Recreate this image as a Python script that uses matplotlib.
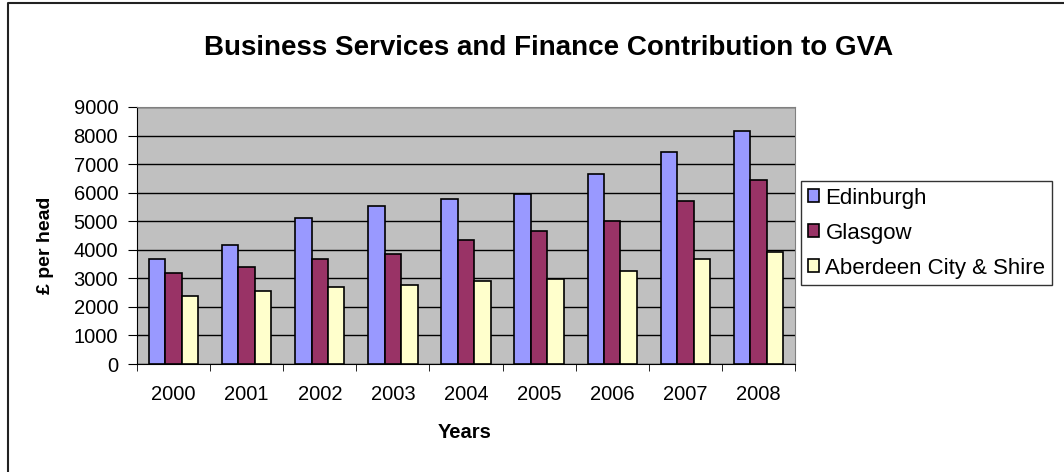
import numpy as np
import matplotlib.pyplot as plt
from matplotlib.lines import Line2D

plt.rcParams['font.family'] = ['Liberation Sans', 'DejaVu Sans']

years = ['2000', '2001', '2002', '2003', '2004', '2005', '2006', '2007', '2008']
edinburgh = [3690, 4150, 5120, 5540, 5770, 5960, 6670, 7440, 8170]
glasgow = [3190, 3380, 3690, 3860, 4340, 4650, 5010, 5720, 6430]
aberdeen = [2370, 2550, 2680, 2780, 2910, 2970, 3260, 3690, 3930]
series_names = ['Edinburgh', 'Glasgow', 'Aberdeen City & Shire']
colours = ['#9999FF', '#993366', '#FFFFCC']

W, H = 1064, 472
fig = plt.figure(figsize=(W / 100, H / 100), dpi=100)
# chart border (only left and top edges show in the crop)
fig.add_artist(Line2D([8 / W, 8 / W, 1.0], [0.0, 1 - 3 / H, 1 - 3 / H],
                      transform=fig.transFigure, color='#222222', linewidth=1.5))

ax = fig.add_axes([137 / W, 1 - 364 / H, (795 - 137) / W, (364 - 107) / H])
ax.set_facecolor('#C0C0C0')

x = np.arange(len(years))
w = 0.225
for i, (vals, col, name) in enumerate(zip([edinburgh, glasgow, aberdeen], colours, series_names)):
	ax.bar(x + (i - 1) * w, vals, w, color=col, edgecolor='black', linewidth=1.2, label=name, zorder=3)

ax.set_xlim(-0.5, len(years) - 0.5)
ax.set_ylim(0, 9000)
ax.set_yticks(np.arange(0, 9001, 1000))
ax.yaxis.grid(True, color='black', linewidth=1, zorder=0)
ax.set_axisbelow(True)

ax.set_xticks(x)
ax.set_xticklabels(years, fontsize=14.5)
ax.set_xticks(np.arange(-0.5, len(years), 1), minor=True)
ax.tick_params(axis='x', which='major', length=0, pad=15)
ax.tick_params(axis='x', which='minor', length=5, direction='out')
ax.tick_params(axis='y', labelsize=14.5, length=6.5, direction='out', pad=7)

for side in ['top', 'right']:
	ax.spines[side].set_color('#808080')
ax.spines['left'].set_color('black')
ax.spines['bottom'].set_color('black')

fig.text(465 / W, 1 - 432 / H, 'Years', fontsize=14.5, fontweight='bold', ha='center', va='center')
fig.text(45 / W, 1 - 245 / H, '£ per head', fontsize=14, fontweight='bold', rotation=90,
         ha='center', va='center')
fig.text(549 / W, 1 - 48 / H, 'Business Services and Finance Contribution to GVA', fontsize=20,
         fontweight='bold', ha='center', va='center')

leg = ax.legend(loc='upper left', bbox_to_anchor=(801 / W, 1 - 181 / H),
                bbox_transform=fig.transFigure, fontsize=16, borderaxespad=0,
                frameon=True, fancybox=False, edgecolor='black', borderpad=0.3,
                handlelength=0.5, handleheight=0.5, handletextpad=0.3, labelspacing=0.63)
leg.get_frame().set_linewidth(1)

fig.savefig('out.png', dpi=100)
